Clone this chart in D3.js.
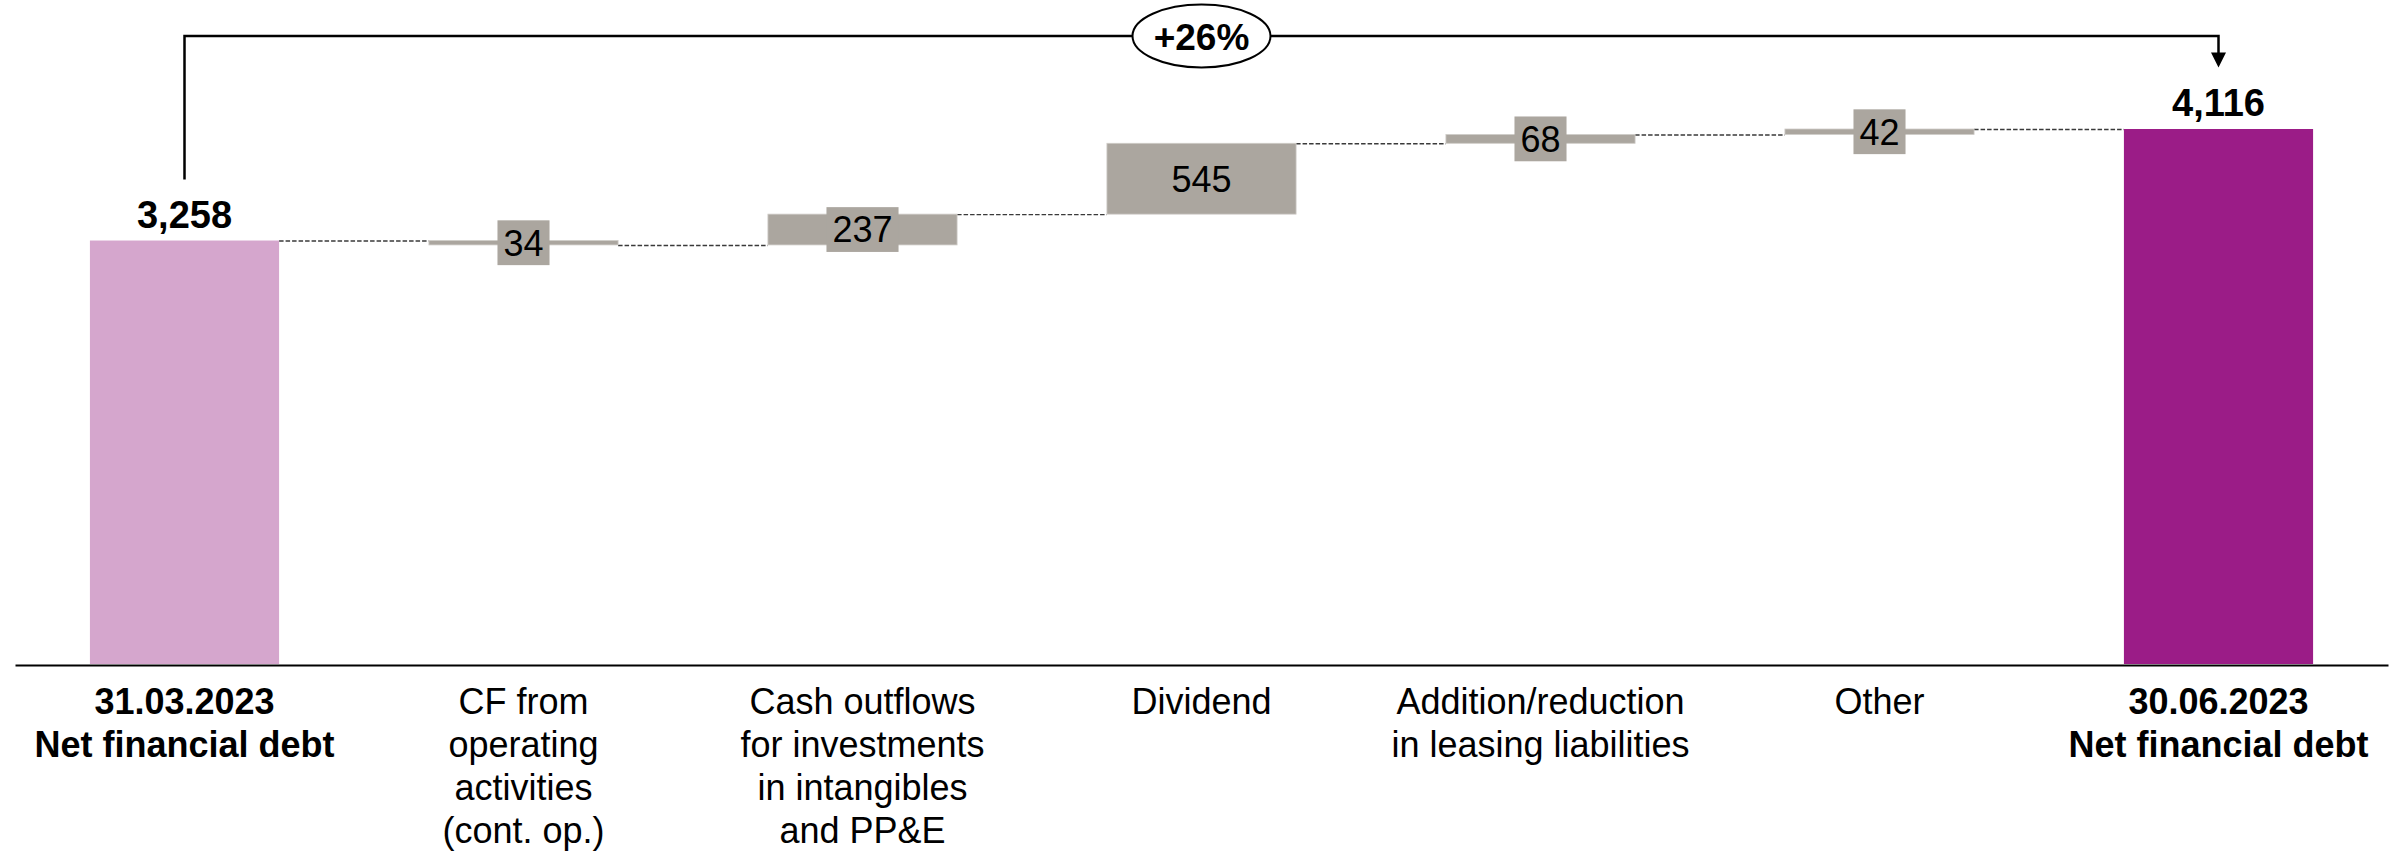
<!DOCTYPE html>
<html>
<head>
<meta charset="utf-8">
<script src="https://cdn.jsdelivr.net/npm/d3@7"></script>
<style>
  html, body { margin: 0; padding: 0; background: #fff; }
  svg { display: block; font-family: "Liberation Sans", Arial, sans-serif; }
</style>
</head>
<body>
<svg id="chart" width="2405" height="855"></svg>
<script>
// Net financial debt bridge, EUR m
const categoryLines = [
  ["31.03.2023", "Net financial debt"],
  ["CF from", "operating", "activities", "(cont. op.)"],
  ["Cash outflows", "for investments", "in intangibles", "and PP&E"],
  ["Dividend"],
  ["Addition/reduction", "in leasing liabilities"],
  ["Other"],
  ["30.06.2023", "Net financial debt"]
];
const barKinds = ["total", "delta", "delta", "delta", "delta", "delta", "total"];
const values   = [3258, -34, 237, 545, 68, 42, 4116];
const changeLabel = "+26%";

const colors = { start: "#d5a6cd", end: "#9b1c87", delta: "#aba69f" };

const svg = d3.select("#chart");

// build bar extents (running total for the bridge)
let running = 0;
const bars = values.map((v, i) => {
  let lo, hi;
  if (barKinds[i] === "total") { lo = 0; hi = v; running = v; }
  else { const s = running; running = s + v; lo = Math.min(s, running); hi = Math.max(s, running); }
  return { i, v, lo, hi, level: running, kind: barKinds[i] };
});

const x = d3.scaleBand()
  .domain(d3.range(values.length))
  .range([15, 2388])
  .paddingInner(0.442)
  .paddingOuter(0.221);

const yMax = d3.max(bars, d => d.hi);
const y = d3.scaleLinear().domain([0, yMax]).range([664, 129]);

// connectors between consecutive bars
const conn = svg.append("g");
bars.slice(0, -1).forEach((b, k) => {
  conn.append("line")
    .attr("x1", x(k) + x.bandwidth())
    .attr("x2", x(k + 1))
    .attr("y1", y(b.level) + 0.5)
    .attr("y2", y(b.level) + 0.5)
    .attr("stroke", "#3a3a3a")
    .attr("stroke-width", 1.4)
    .attr("stroke-dasharray", "4.5,2");
});

// bars
svg.append("g").selectAll("rect")
  .data(bars)
  .join("rect")
  .attr("x", d => x(d.i))
  .attr("width", x.bandwidth())
  .attr("y", d => y(d.hi))
  .attr("height", d => y(d.lo) - y(d.hi))
  .attr("fill", d => d.kind === "total" ? (d.i === 0 ? colors.start : colors.end) : colors.delta)
  .attr("stroke", d => d.kind === "total" ? "none" : "#cfccc8")
  .attr("stroke-width", 0.8);

// value labels
const fmt = d3.format(",");
const lab = svg.append("g");
bars.forEach(d => {
  const cx = x(d.i) + x.bandwidth() / 2;
  if (d.kind === "total") {
    lab.append("text")
      .attr("x", cx).attr("y", y(d.hi) - 13)
      .attr("text-anchor", "middle")
      .attr("font-size", 38).attr("font-weight", "bold")
      .attr("fill", "#000")
      .text(fmt(d.v));
  } else {
    const cy = (y(d.lo) + y(d.hi)) / 2;
    const h = y(d.lo) - y(d.hi);
    const g = lab.append("g");
    const t = g.append("text")
      .attr("x", cx).attr("y", cy + 12.9)
      .attr("text-anchor", "middle")
      .attr("font-size", 36)
      .attr("fill", "#000")
      .text(fmt(Math.abs(d.v)));
    if (h < 45) {
      const bb = t.node().getBBox();
      g.insert("rect", "text")
        .attr("x", cx - bb.width / 2 - 6)
        .attr("width", bb.width + 12)
        .attr("y", cy - 22.4)
        .attr("height", 44.8)
        .attr("fill", colors.delta);
    }
  }
});

// growth bracket from first to last total
const x0 = x(0) + x.bandwidth() / 2;
const x1 = x(values.length - 1) + x.bandwidth() / 2;
const topY = 36;
const startBottom = y(values[0]) - 61;
const endTip = y(values[values.length - 1]) - 61.5;
svg.append("path")
  .attr("d", `M${x0},${startBottom}V${topY}H${x1}V${endTip - 14}`)
  .attr("fill", "none")
  .attr("stroke", "#000")
  .attr("stroke-width", 2.5);
svg.append("path")
  .attr("d", `M${x1 - 7.5},${endTip - 15}L${x1 + 7.5},${endTip - 15}L${x1},${endTip}Z`)
  .attr("fill", "#000");
const mx = (x0 + x1) / 2;
svg.append("ellipse")
  .attr("cx", mx).attr("cy", topY)
  .attr("rx", 69).attr("ry", 31.5)
  .attr("fill", "#fff")
  .attr("stroke", "#000")
  .attr("stroke-width", 2);
svg.append("text")
  .attr("x", mx).attr("y", topY + 13.5)
  .attr("text-anchor", "middle")
  .attr("font-size", 37).attr("font-weight", "bold")
  .text(changeLabel);

// category axis
const axis = d3.axisBottom(x).tickSize(0).tickSizeOuter(0).tickFormat("");
const ax = svg.append("g")
  .attr("transform", "translate(0,665)")
  .call(axis);
ax.select(".domain").attr("stroke", "#000").attr("stroke-width", 2);
ax.selectAll(".tick text").remove();
ax.selectAll(".tick").each(function (i) {
  const t = d3.select(this).append("text")
    .attr("text-anchor", "middle")
    .attr("fill", "#000")
    .attr("font-size", 36)
    .attr("font-weight", barKinds[i] === "total" ? "bold" : "normal");
  categoryLines[i].forEach((line, k) => {
    t.append("tspan")
      .attr("x", 0)
      .attr("y", 48.5 + k * 43.3)
      .text(line);
  });
});
</script>
</body>
</html>
